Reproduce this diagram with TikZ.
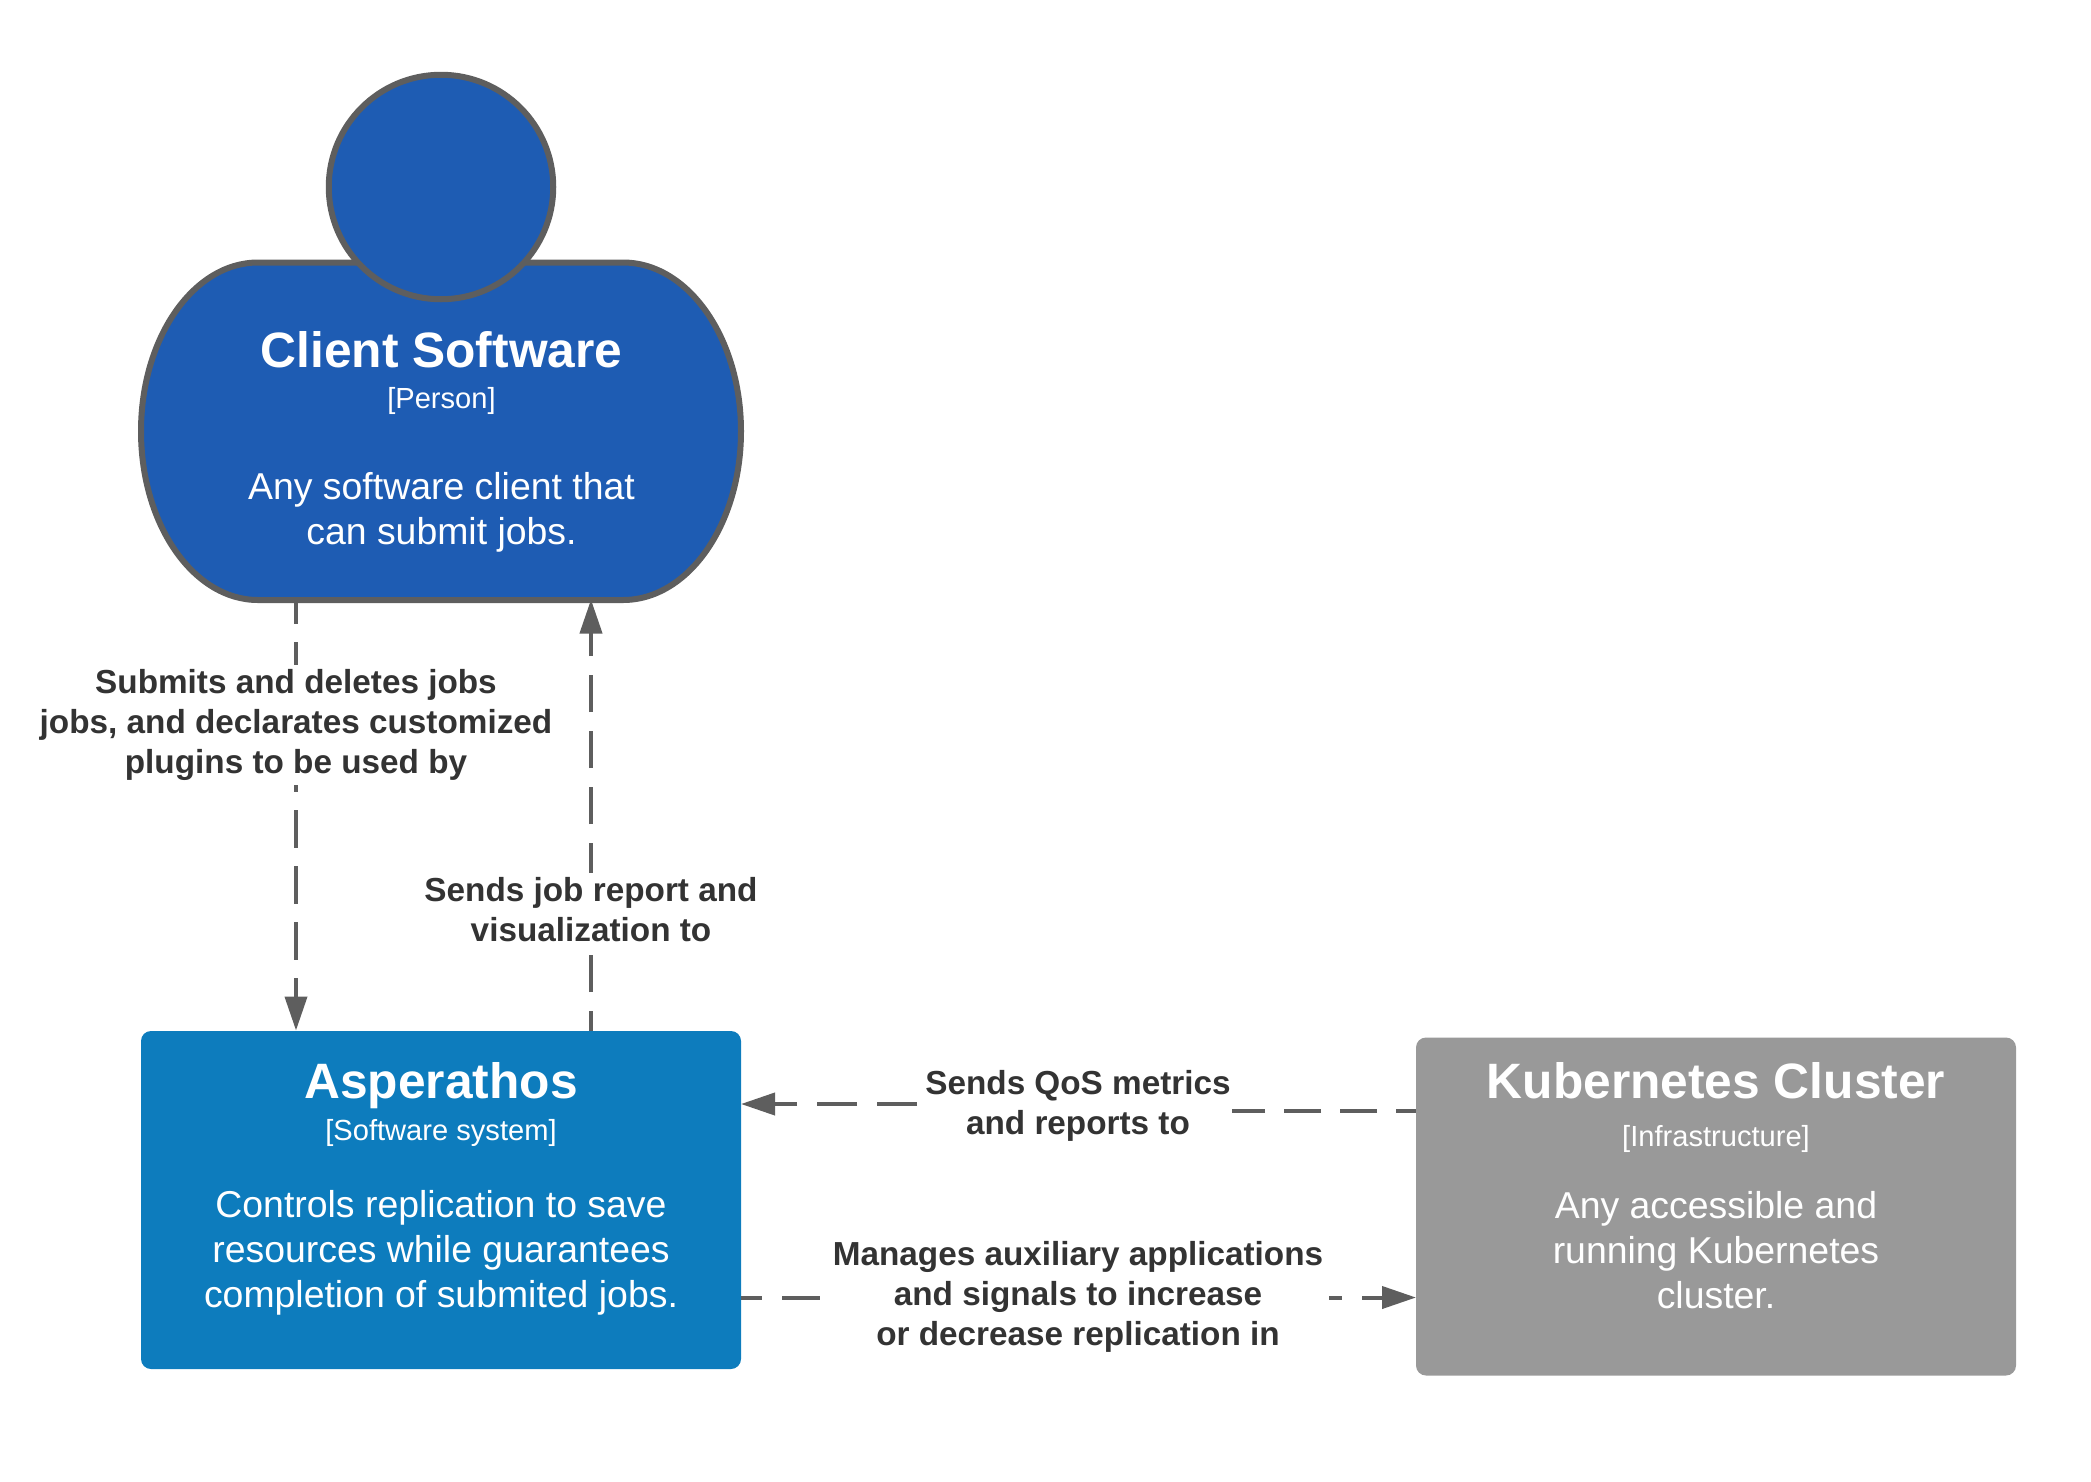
\documentclass[tikz,border=0pt]{standalone}
\usepackage{fontspec}
\setmainfont{Liberation Sans}
\usetikzlibrary{arrows.meta}
\definecolor{personblue}{HTML}{1E5CB3}
\definecolor{sysblue}{HTML}{0D7CBD}
\definecolor{infragray}{HTML}{999999}
\definecolor{linegray}{HTML}{5E5E5E}
\definecolor{labeltext}{HTML}{333333}
\tikzset{
  boxnode/.style={rectangle,rounded corners=10pt,minimum width=600pt,inner sep=0pt,outer sep=0pt},
  titletext/.style={anchor=base,text=white,inner sep=0pt,font=\fontsize{49.7}{50}\selectfont\bfseries},
  typetext/.style={anchor=base,text=white,inner sep=0pt,font=\fontsize{29.1}{30}\selectfont},
  desctext/.style={anchor=base,text=white,inner sep=0pt,font=\fontsize{37.4}{40}\selectfont},
  linklabel/.style={fill=white,align=center,text=labeltext,inner xsep=6pt,inner ysep=0pt,font=\fontsize{33.3}{40}\selectfont\bfseries},
  relation/.style={draw=linegray,line width=4pt,dash pattern=on 37.5pt off 18.5pt,dash phase=17pt},
  headed/.style={-{Triangle[length=34pt,width=22pt]},linegray},
  personline/.style={draw=linegray,fill=personblue,line width=6pt}
}
\begin{document}
\begin{tikzpicture}[x=1pt,y=-1pt]
\useasboundingbox (0,0) rectangle (2091,1481);
% person shape
\draw[personline] (258,262.5) -- (623,262.5)
  arc[start angle=-90,end angle=0,x radius=118,y radius=168.75]
  arc[start angle=0,end angle=90,x radius=118,y radius=168.75] -- (258,600)
  arc[start angle=90,end angle=180,x radius=117,y radius=168.75]
  arc[start angle=180,end angle=270,x radius=117,y radius=168.75] -- cycle;
\node[circle,personline,minimum size=224.5pt,inner sep=0pt,outer sep=0pt] (head) at (441,187) {};
\coordinate (clientbottom) at (441.5,603);
% boxes
\node[boxnode,fill=sysblue,minimum height=338pt,anchor=north west] (asperathos) at (141,1031) {};
\node[boxnode,fill=infragray,minimum height=338pt,anchor=north west] (kubernetes) at (1416,1037.5) {};
% box texts
\node[titletext] (t1) at (441.5,367) {Client Software};
\node[typetext] (t2) at (441.5,408) {[Person]};
\node[desctext] (t3) at (441.5,499.5) {Any software client that};
\node[desctext] (t4) at (441.5,544.5) {can submit jobs.};
\node[titletext] (a1) at (441,1098.5) {Asperathos};
\node[typetext] (a2) at (441,1140) {[Software system]};
\node[desctext] (a3) at (441,1217) {Controls replication to save};
\node[desctext] (a4) at (441,1262) {resources while guarantees};
\node[desctext] (a5) at (441,1307) {completion of submited jobs.};
\node[titletext] (k1) at (1716,1098.5) {Kubernetes Cluster};
\node[typetext] (k2) at (1716,1146) {[Infrastructure]};
\node[desctext] (k3) at (1716,1218) {Any accessible and};
\node[desctext] (k4) at (1716,1263) {running Kubernetes};
\node[desctext] (k5) at (1716,1308) {cluster.};
% connectors
\draw[relation,headed] ([xshift=-145.5pt]clientbottom) -- ([xshift=-145pt,yshift=0.5pt]asperathos.north);
\draw[relation,headed] ([xshift=150pt]asperathos.north) -- ([xshift=149.5pt,yshift=3.5pt]clientbottom);
\coordinate (elbowleft) at (1078,1104);
\coordinate (elbowright) at (1232,1111);
\draw[relation,headed,dash pattern=on 40pt off 20pt,dash phase=19pt] (elbowleft) -- ([yshift=96pt]asperathos.east);
\draw[relation,headed,dash pattern=on 38pt off 20pt,dash phase=17pt] ([yshift=-97.5pt]asperathos.east) -- ([yshift=-91pt]kubernetes.west);
% labels
\node[linklabel] (l1) at (296,725.3) {\strut Submits and deletes jobs\\ \strut jobs, and declarates customized\\ \strut plugins to be used by};
\node[linklabel] (l2) at (591,913.3) {\strut Sends job report and\\ \strut visualization to};
\node[linklabel] (l3) at (1078,1106.6) {\strut Sends QoS metrics\\ \strut and reports to};
\node[linklabel] (l4) at (1078,1297.6) {\strut Manages auxiliary applications\\ \strut and signals to increase\\ \strut or decrease replication in};
\draw[relation] ([yshift=95.5pt]kubernetes.west) -- (elbowright);
\end{tikzpicture}
\end{document}
